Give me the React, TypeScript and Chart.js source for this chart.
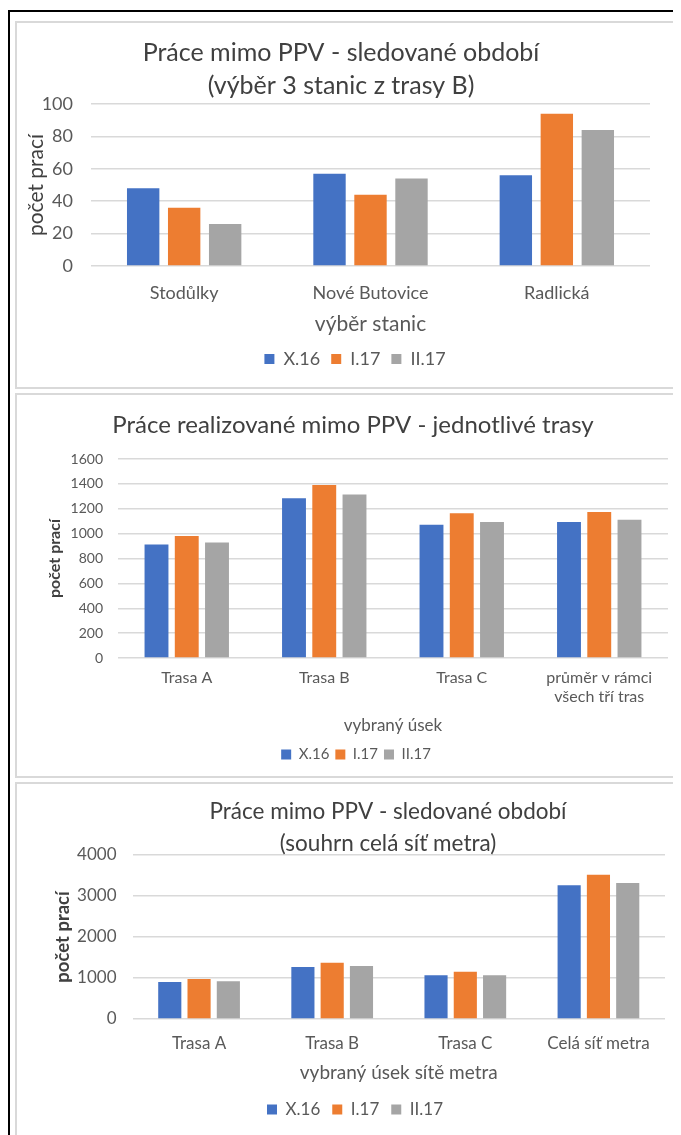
import React, { useEffect, useRef } from 'react';
import { Chart, registerables } from 'chart.js';

Chart.register(...registerables);

// ---------- data ----------
const seriesNames = ['X.16', 'I.17', 'II.17'];
const seriesColors = ['#4472C4', '#ED7D31', '#A5A5A5'];

const stationCategories = ['Stodůlky', 'Nové Butovice', 'Radlická'];
const stationX16 = [48, 57, 56];
const stationI17 = [36, 44, 94];
const stationII17 = [26, 54, 84];
const stationTicks = { min: 0, max: 100, step: 20 };

const routeCategories = ['Trasa A', 'Trasa B', 'Trasa C', ['průměr v rámci', 'všech tří tras']];
const routeX16 = [913, 1285, 1072, 1093];
const routeI17 = [980, 1390, 1164, 1174];
const routeII17 = [929, 1314, 1093, 1112];
const routeTicks = { min: 0, max: 1600, step: 200 };

const networkCategories = ['Trasa A', 'Trasa B', 'Trasa C', 'Celá síť metra'];
const networkX16 = [900, 1270, 1070, 3265];
const networkI17 = [975, 1370, 1150, 3520];
const networkII17 = [920, 1295, 1070, 3315];
const networkTicks = { min: 0, max: 4000, step: 1000 };

// ---------- styling / layout ----------
const FONT = 'Lato, "Open Sans", sans-serif';
const TEXT = '#595959';
const TITLE_TEXT = '#404040';
const GRID = '#d9d9d9';

const centerShift = {
  id: 'centerShift',
  afterLayout(chart: any, _args: any, opts: any) {
    const shift = (box: any, cx: any) => {
      if (!box || cx == null) return;
      const d = cx - (box.left + box.right) / 2;
      box.left += d;
      box.right += d;
    };
    shift(chart.titleBlock, opts.title);
    shift(chart.legend, opts.legend);
  },
};

type Spec = {
  categories: any[];
  values: number[][];
  ticks: { min: number; max: number; step: number };
  title: string[];
  xTitle: string;
  width: number;
  height: number;
  titleSize: number;
  titleLH: number;
  titlePadTop: number;
  titlePadBottom: number;
  titleCenter: number;
  legendCenter: number;
  yWidth: number;
  yTickSize: number;
  yTickPad: number;
  yTitleSize: number;
  yTitleBold: boolean;
  yTitlePad: number;
  xHeight: number;
  xTickSize: number;
  xTickPad: number;
  xTitleSize: number;
  xTitlePadBottom: number;
  legendSize: number;
  legendPad: number;
  padRight: number;
  padBottom: number;
};

function buildConfig(s: Spec): any {
  return {
    type: 'bar',
    data: {
      labels: s.categories,
      datasets: seriesNames.map((name, i) => ({
        label: name,
        data: s.values[i],
        backgroundColor: seriesColors[i],
        borderWidth: 0,
        categoryPercentage: 0.66,
        barPercentage: 0.79,
      })),
    },
    plugins: [centerShift],
    options: {
      responsive: false,
      animation: false,
      devicePixelRatio: 1,
      layout: { padding: { top: 0, left: 0, right: s.padRight, bottom: s.padBottom } },
      plugins: {
        centerShift: { title: s.titleCenter, legend: s.legendCenter },
        tooltip: { enabled: false },
        title: {
          display: true,
          text: s.title,
          color: TITLE_TEXT,
          font: { family: FONT, size: s.titleSize, weight: 'normal', lineHeight: s.titleLH },
          padding: { top: s.titlePadTop, bottom: s.titlePadBottom },
        },
        legend: {
          display: true,
          position: 'bottom',
          labels: {
            color: TEXT,
            font: { family: FONT, size: s.legendSize },
            boxWidth: 10,
            boxHeight: 10,
            padding: s.legendPad,
          },
        },
      },
      scales: {
        x: {
          grid: { display: false, drawTicks: false },
          border: { display: false },
          ticks: {
            color: TEXT,
            font: { family: FONT, size: s.xTickSize },
            padding: s.xTickPad,
            maxRotation: 0,
            autoSkip: false,
          },
          title: {
            display: true,
            text: s.xTitle,
            color: TEXT,
            font: { family: FONT, size: s.xTitleSize },
            padding: { top: 0, bottom: s.xTitlePadBottom },
          },
          afterFit: (scale: any) => {
            scale.height = s.xHeight;
          },
        },
        y: {
          min: s.ticks.min,
          max: s.ticks.max,
          grid: { color: GRID, lineWidth: 1.5, drawTicks: false },
          border: { display: false },
          ticks: {
            stepSize: s.ticks.step,
            color: TEXT,
            font: { family: FONT, size: s.yTickSize },
            padding: s.yTickPad,
            callback: (v: any) => String(v),
          },
          title: {
            display: true,
            text: 'počet prací',
            color: TITLE_TEXT,
            font: { family: FONT, size: s.yTitleSize, weight: s.yTitleBold ? 'bold' : 'normal' },
            padding: { top: s.yTitlePad, bottom: 0 },
          },
          afterFit: (scale: any) => {
            scale.width = s.yWidth;
          },
        },
      },
    },
  };
}

const spec1: Spec = {
  categories: stationCategories,
  values: [stationX16, stationI17, stationII17],
  ticks: stationTicks,
  title: ['Práce mimo PPV - sledované období', '(výběr 3 stanic z trasy B)'],
  xTitle: 'výběr stanic',
  width: 664,
  height: 364,
  titleSize: 25,
  titleLH: 1.32,
  titlePadTop: 13.5,
  titlePadBottom: 1.5,
  titleCenter: 324,
  legendCenter: 338,
  yWidth: 74,
  yTickSize: 18,
  yTickPad: 18,
  yTitleSize: 21,
  yTitleBold: false,
  yTitlePad: 6.4,
  xHeight: 73,
  xTickSize: 18,
  xTickPad: 16,
  xTitleSize: 21,
  xTitlePadBottom: 2,
  legendSize: 18,
  legendPad: 11,
  padRight: 31,
  padBottom: 9,
};

const spec2: Spec = {
  categories: routeCategories,
  values: [routeX16, routeI17, routeII17],
  ticks: routeTicks,
  title: ['Práce realizované mimo PPV - jednotlivé trasy'],
  xTitle: 'vybraný úsek',
  width: 664,
  height: 381,
  titleSize: 24,
  titleLH: 1.25,
  titlePadTop: 15,
  titlePadBottom: 19,
  titleCenter: 336,
  legendCenter: 339,
  yWidth: 101,
  yTickSize: 14,
  yTickPad: 15,
  yTitleSize: 16,
  yTitleBold: true,
  yTitlePad: 28.4,
  xHeight: 83,
  xTickSize: 16,
  xTickPad: 10,
  xTitleSize: 17,
  xTitlePadBottom: 5,
  legendSize: 15,
  legendPad: 6,
  padRight: 13,
  padBottom: 4,
};

const spec3: Spec = {
  categories: networkCategories,
  values: [networkX16, networkI17, networkII17],
  ticks: networkTicks,
  title: ['Práce mimo PPV - sledované období', '(souhrn celá síť metra)'],
  xTitle: 'vybraný úsek sítě metra',
  width: 664,
  height: 350,
  titleSize: 22.5,
  titleLH: 1.422,
  titlePadTop: 12,
  titlePadBottom: -5,
  titleCenter: 371,
  legendCenter: 338,
  yWidth: 115.5,
  yTickSize: 17,
  yTickPad: 16,
  yTitleSize: 18.5,
  yTitleBold: true,
  yTitlePad: 34.9,
  xHeight: 70,
  xTickSize: 17,
  xTickPad: 14,
  xTitleSize: 19,
  xTitlePadBottom: 5,
  legendSize: 17,
  legendPad: 12,
  padRight: 16,
  padBottom: 6,
};

function ChartCanvas({ spec }: { spec: Spec }) {
  const ref = useRef<HTMLCanvasElement | null>(null);
  useEffect(() => {
    if (!ref.current) return;
    const chart = new Chart(ref.current, buildConfig(spec));
    return () => chart.destroy();
  }, [spec]);
  return (
    <canvas
      ref={ref}
      width={spec.width}
      height={spec.height}
      style={{ display: 'block', width: spec.width, height: spec.height }}
    />
  );
}

function Box({ top, height, spec }: { top: number; height: number; spec: Spec }) {
  return (
    <div
      style={{
        position: 'absolute',
        left: 7,
        top: top,
        width: 666,
        height: height,
        borderLeft: '2px solid #d9d9d9',
        borderTop: '2px solid #d9d9d9',
        borderBottom: '2px solid #d9d9d9',
        overflow: 'hidden',
        background: '#ffffff',
      }}
    >
      <ChartCanvas spec={spec} />
    </div>
  );
}

export default function App() {
  return (
    <div style={{ position: 'relative', width: 673, height: 1127, overflow: 'hidden' }}>
      <div
        style={{
          position: 'absolute',
          left: 0,
          top: 2,
          width: 673,
          height: 1125,
          borderLeft: '2px solid #000',
          borderTop: '2px solid #000',
          boxSizing: 'border-box',
        }}
      />
      <Box top={13} height={364} spec={spec1} />
      <Box top={385} height={381} spec={spec2} />
      <Box top={774} height={360} spec={spec3} />
    </div>
  );
}
